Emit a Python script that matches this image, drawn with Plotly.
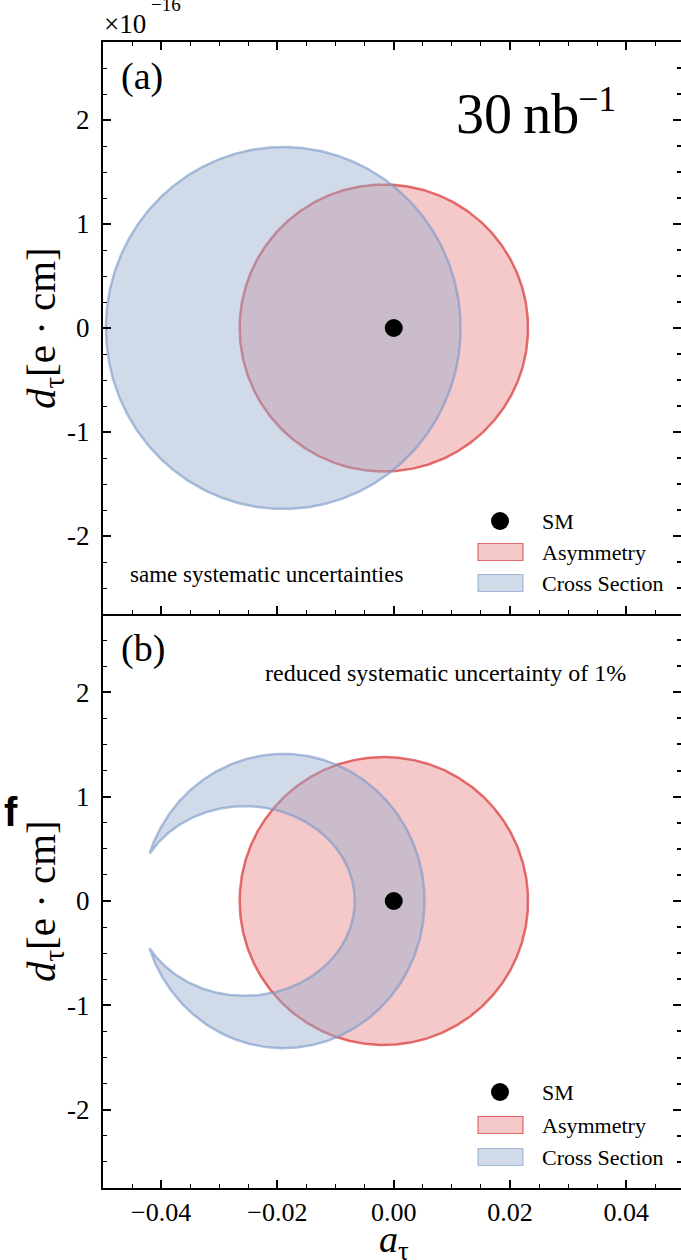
import numpy as np
import plotly.graph_objects as go

# ---------------- data (a_tau, d_tau in units of 1e-16 e*cm) ----------------
sm_a = [0.0]
sm_d = [0.0]
# Asymmetry ellipse: [center_a, center_d], [semi_a, semi_d]
asym_center = [-0.0017, 0.0]
asym_semi = [0.0248, 1.38]
# Cross-section (a): ellipse
xs_a_center = [-0.0190, 0.0]
xs_a_semi = [0.0305, 1.74]
# Cross-section (b): crescent = outer ellipse minus inner ellipse
xs_b_outer_center = [-0.0190, 0.0]
xs_b_outer_semi = [0.0243, 1.41]
xs_b_inner_center = [-0.0256, 0.0]
xs_b_inner_semi = [0.0189, 0.909]

x_ticks = [-0.04, -0.02, 0.0, 0.02, 0.04]
x_ticktext = ["\u22120.04", "\u22120.02", "0.00", "0.02", "0.04"]
y_ticks = [-2, -1, 0, 1, 2]
y_ticktext = ["-2", "-1", "0", "1", "2"]
legend_labels = ["SM", "Asymmetry", "Cross Section"]

# ---------------- geometry helpers ----------------
TH = np.linspace(-np.pi, np.pi, 721)


def ellipse(c, s):
    return c[0] + s[0] * np.cos(TH), c[1] + s[1] * np.sin(TH)


def inside(x, y, c, s):
    return ((x - c[0]) / s[0]) ** 2 + ((y - c[1]) / s[1]) ** 2 < 1


def crescent(co, so, ci, si):
    xo, yo = ellipse(co, so)
    keep_o = ~inside(xo, yo, ci, si)
    xi, yi = ellipse(ci, si)
    keep_i = inside(xi, yi, co, so)
    x = np.concatenate([xo[keep_o], xi[keep_i][::-1], xo[keep_o][:1]])
    y = np.concatenate([yo[keep_o], yi[keep_i][::-1], yo[keep_o][:1]])
    return x, y


SERIF = "Liberation Serif, Times New Roman, serif"
RED_FILL = "rgba(214,39,40,0.25)"
RED_LINE = "rgba(214,39,40,0.66)"
BLUE_FILL = "rgba(151,173,206,0.45)"
BLUE_LINE = "rgba(120,150,200,0.6)"

fig = go.Figure()

panels = [("x", "y"), ("x2", "y2")]
for i, (xa, ya) in enumerate(panels):
    ax, ay = ellipse(asym_center, asym_semi)
    fig.add_trace(go.Scatter(x=ax, y=ay, mode="lines", fill="toself",
                             fillcolor=RED_FILL, line=dict(color=RED_LINE, width=2.5),
                             name="Asymmetry", showlegend=False,
                             xaxis=xa, yaxis=ya))
    if i == 0:
        cx, cy = ellipse(xs_a_center, xs_a_semi)
    else:
        cx, cy = crescent(xs_b_outer_center, xs_b_outer_semi,
                          xs_b_inner_center, xs_b_inner_semi)
    fig.add_trace(go.Scatter(x=cx, y=cy, mode="lines", fill="toself",
                             fillcolor=BLUE_FILL, line=dict(color=BLUE_LINE, width=2.5),
                             name="Cross Section", showlegend=False,
                             xaxis=xa, yaxis=ya))
    fig.add_trace(go.Scatter(x=sm_a, y=sm_d, mode="markers",
                             marker=dict(color="black", size=18),
                             name="SM", showlegend=False,
                             xaxis=xa, yaxis=ya))

W, H = 681, 1260
L = 103
PW = W - L
x_range = [-0.05, -0.05 + PW / 116.3 * 0.02]


def py(p):
    return 1 - p / H


def px(p):
    return (p - L) / PW


dom_a = [py(614), py(42)]
dom_b = [py(1188), py(614)]

TF = dict(family=SERIF, size=26, color="black")
minor_x = dict(dtick=0.005, tick0=0, ticks="inside", ticklen=4, tickwidth=1.3,
               tickcolor="black")
minor_y = dict(dtick=0.25, tick0=0, ticks="inside", ticklen=4, tickwidth=1.3,
               tickcolor="black")
xcommon = dict(range=x_range, showgrid=False, zeroline=False, showline=True,
               linecolor="black", linewidth=2, ticks="inside",
               ticklen=8, tickwidth=1.6, tickcolor="black", tickvals=x_ticks,
               ticktext=x_ticktext, minor=minor_x, tickfont=TF)
ycommon = dict(range=[-2.75, 2.75], showgrid=False, zeroline=False, showline=True,
               linecolor="black", linewidth=2, ticks="inside", ticklen=8,
               tickwidth=1.6, tickcolor="black", tickvals=y_ticks,
               ticktext=y_ticktext, ticklabelstandoff=6, minor=minor_y,
               tickfont=dict(family=SERIF, size=27, color="black"))
yright = dict(range=[-2.75, 2.75], showgrid=False, zeroline=False, showline=False,
              side="right", ticks="inside", ticklen=8, tickwidth=1.8,
              tickcolor="black", tickvals=y_ticks, showticklabels=False,
              minor=dict(dtick=0.25, tick0=0, ticks="inside", ticklen=4,
                         tickwidth=1.5, tickcolor="black"))

fig.update_layout(
    width=W, height=H,
    margin=dict(l=L, r=0, t=0, b=0),
    paper_bgcolor="white", plot_bgcolor="white",
    font=dict(family=SERIF, color="black"),
    showlegend=False,
    xaxis=dict(**xcommon, domain=[0, 1], anchor="y", mirror="ticks",
               showticklabels=False),
    xaxis2=dict(**xcommon, domain=[0, 1], anchor="y2", matches="x",
                ticklabelstandoff=0),
    yaxis=dict(**ycommon, domain=dom_a, anchor="x"),
    yaxis2=dict(**ycommon, domain=dom_b, anchor="x2"),
    yaxis3=dict(**yright, overlaying="y", anchor="x"),
    yaxis4=dict(**yright, overlaying="y2", anchor="x2"),
)
# empty traces so the right-hand tick axes render
fig.add_trace(go.Scatter(x=[None], y=[None], xaxis="x", yaxis="y3", showlegend=False))
fig.add_trace(go.Scatter(x=[None], y=[None], xaxis="x2", yaxis="y4", showlegend=False))

# ---------------- legends (drawn as layout shapes + text) ----------------
legend_rows = [(521, 552, 583), (1092, 1125, 1157)]
for rows in legend_rows:
    sm_y, as_y, cs_y = rows
    r = 9
    fig.add_shape(type="circle", xref="paper", yref="paper",
                  x0=px(500 - r), x1=px(500 + r), y0=py(sm_y + r), y1=py(sm_y - r),
                  fillcolor="black", line=dict(color="black", width=0))
    for yy, fc, lc in [(as_y, RED_FILL, RED_LINE), (cs_y, BLUE_FILL, BLUE_LINE)]:
        fig.add_shape(type="rect", xref="paper", yref="paper",
                      x0=px(478), x1=px(523), y0=py(yy + 8.5), y1=py(yy - 8.5),
                      fillcolor=fc, line=dict(color=lc, width=1.2))
    for lab, yy in zip(legend_labels, rows):
        fig.add_annotation(text=lab, x=px(540), y=py(yy), xref="paper", yref="paper",
                           xanchor="left", yanchor="middle", showarrow=False,
                           font=dict(family=SERIF, size=22, color="black"))

YLAB = "<i>d</i><sub>\u03c4</sub>[e \u00b7 cm]"
ann = [
    dict(text="\u00d710", x=px(102), y=py(41), xanchor="left",
         yanchor="bottom", font=dict(size=27)),
    dict(text="\u221216", x=px(149), y=py(5), xanchor="left",
         yanchor="middle", font=dict(size=19)),
    dict(text="(a)", x=px(119), y=py(76), xanchor="left", yanchor="middle",
         font=dict(size=38)),
    dict(text="30\u2009nb", x=px(454), y=py(114), xanchor="left",
         yanchor="middle", font=dict(size=56)),
    dict(text="\u22121", x=px(576), y=py(99), xanchor="left",
         yanchor="middle", font=dict(size=36)),
    dict(text="same systematic uncertainties", x=px(128), y=py(575), xanchor="left",
         yanchor="middle", font=dict(size=23)),
    dict(text="(b)", x=px(119), y=py(649), xanchor="left", yanchor="middle",
         font=dict(size=38)),
    dict(text="reduced systematic uncertainty of 1%", x=px(263), y=py(673),
         xanchor="left", yanchor="middle", font=dict(size=24)),
    dict(text=YLAB, x=px(44), y=py(328),
         xanchor="center", yanchor="middle", textangle=-90, font=dict(size=41)),
    dict(text=YLAB, x=px(44), y=py(901),
         xanchor="center", yanchor="middle", textangle=-90, font=dict(size=41)),
    dict(text="<i>a</i><sub>\u03c4</sub>", x=px(394), y=py(1242), xanchor="center",
         yanchor="middle", font=dict(size=38)),
]
for a in ann:
    f = a.pop("font")
    f.setdefault("family", SERIF)
    f.setdefault("color", "black")
    fig.add_annotation(**a, font=f, xref="paper", yref="paper", showarrow=False)

fig.add_annotation(text="<b>f</b>", x=px(11), y=py(812), xref="paper", yref="paper",
                   xanchor="center", yanchor="middle", showarrow=False,
                   font=dict(family="Liberation Sans, Arial, sans-serif", size=40,
                             color="black"))

fig.write_html("out.html")
